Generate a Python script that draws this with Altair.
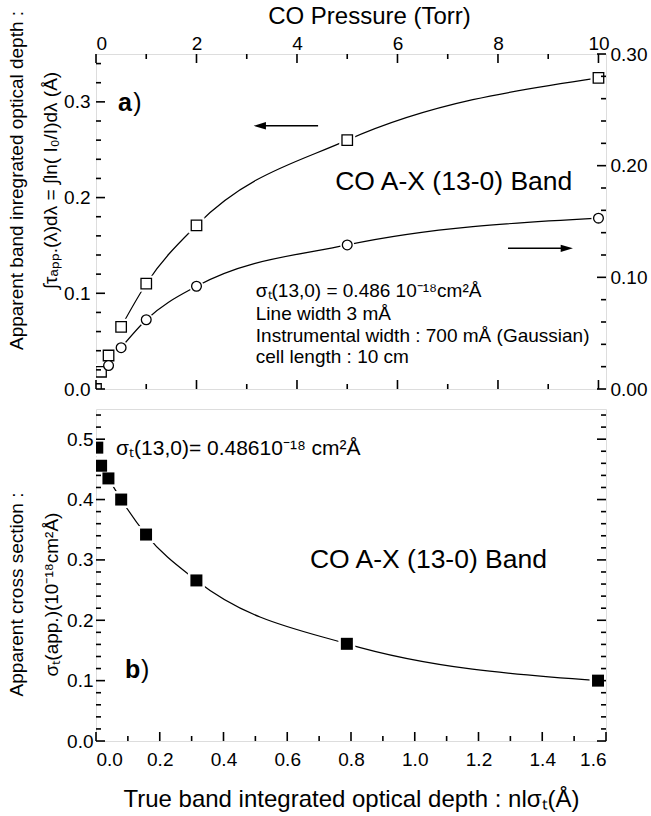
import altair as alt
import pandas as pd

FONT = "Liberation Sans"

# ---------------- data: panel a (top) ----------------
pressure_sq = [0.0, 0.1, 0.25, 0.5, 1, 2, 5, 10]
depth_sq = [0.0, 0.018, 0.035, 0.065, 0.110, 0.171, 0.260, 0.325]      # left axis
pressure_ci = [0.25, 0.5, 1, 2, 5, 10]
depth_ci = [0.021, 0.037, 0.062, 0.092, 0.129, 0.153]                  # right axis
fit_start_sq = 3   # fitted curve starts at the 0.5 Torr square
fit_start_ci = 1   # and at the 0.5 Torr circle

# ---------------- data: panel b (bottom) ----------------
nl_sigma = [0.004, 0.016, 0.039, 0.079, 0.157, 0.315, 0.787, 1.575]
sigma_app = [0.486, 0.456, 0.435, 0.400, 0.342, 0.266, 0.161, 0.100]
fit_start_b = 2

# ---------------- ticks ----------------
top_x_major = [0, 2, 4, 6, 8, 10]
top_x_minor = [1, 3, 5, 7, 9]
top_yl_major = [0.0, 0.1, 0.2, 0.3]
top_yl_minor = [0.02, 0.04, 0.06, 0.08, 0.12, 0.14, 0.16, 0.18, 0.22, 0.24, 0.26, 0.28, 0.32, 0.34]
top_yr_major = [0.0, 0.1, 0.2, 0.3]
top_yr_minor = [0.02, 0.04, 0.06, 0.08, 0.12, 0.14, 0.16, 0.18, 0.22, 0.24, 0.26, 0.28]
bot_x_major = [0.0, 0.2, 0.4, 0.6, 0.8, 1.0, 1.2, 1.4, 1.6]
bot_x_minor = [0.1, 0.3, 0.5, 0.7, 0.9, 1.1, 1.3, 1.5]
bot_y_major = [0.0, 0.1, 0.2, 0.3, 0.4, 0.5]
bot_y_minor = [0.02, 0.04, 0.06, 0.08, 0.12, 0.14, 0.16, 0.18, 0.22, 0.24, 0.26, 0.28,
               0.32, 0.34, 0.36, 0.38, 0.42, 0.44, 0.46, 0.48, 0.52, 0.54]

# ---------------- annotations ----------------
info_text = ["σₜ(13,0)  = 0.486 10⁻¹⁸cm²Å", "Line width 3 mÅ",
             "Instrumental width : 700 mÅ (Gaussian)", "cell length : 10 cm"]
info_x = [3.18, 3.18, 3.18, 3.18]
info_y = [0.102, 0.078, 0.055, 0.033]
band_text = "CO A-X (13-0) Band"
band_top_xy = (4.76, 0.216)
band_bot_xy = (0.671, 0.300)
panel_a_xy = [(0.44, 0.299), (0.74, 0.299)]
panel_b_xy = [(0.091, 0.118), (0.141, 0.118)]
sigma_b_text = "σₜ(13,0)= 0.48610⁻¹⁸ cm²Å"
sigma_b_xy = (0.063, 0.483)
arrow_x1 = [4.42, 8.20]
arrow_x2 = [3.26, 9.37]
arrow_y = [0.275, 0.147]

TOP_W, TOP_H = 510, 335
BOT_W, BOT_H = 510, 332

TOP_XD = [0, 10.15]
TOP_YLD = [0, 0.35]
TOP_YRD = [0, 0.30]
BOT_XD = [0, 1.6]
BOT_YD = [0, 0.55]

xs_top = alt.Scale(domain=TOP_XD, nice=False, zero=False)
yl_top = alt.Scale(domain=TOP_YLD, nice=False, zero=False)
yr_top = alt.Scale(domain=TOP_YRD, nice=False, zero=False)
xs_bot = alt.Scale(domain=BOT_XD, nice=False, zero=False)
ys_bot = alt.Scale(domain=BOT_YD, nice=False, zero=False)


def label_axis(orient, values, fmt, pad, **kw):
    opts = dict(orient=orient, values=values, format=fmt, ticks=False, domain=False,
                grid=False, labelPadding=pad, labelFontSize=19, labelFont=FONT,
                labelColor="black")
    opts.update(kw)
    if "title" not in opts:
        opts["title"] = None
    return alt.Axis(**opts)


def xticks(values, edge, length, xscale, yscale):
    """Inward ticks along a horizontal edge (edge = data value of that edge)."""
    df = pd.DataFrame({"t": values, "e": [edge] * len(values)})
    off = length if edge == yscale.domain[1] else -length
    return alt.Chart(df).mark_rule(color="black", strokeWidth=1.6, y2Offset=off).encode(
        x=alt.X("t:Q", scale=xscale, axis=None),
        y=alt.Y("e:Q", scale=yscale, axis=None), y2="e:Q")


def yticks(values, edge, length, xscale, yscale):
    """Inward ticks along a vertical edge."""
    df = pd.DataFrame({"t": values, "e": [edge] * len(values)})
    off = -length if edge == xscale.domain[1] else length
    return alt.Chart(df).mark_rule(color="black", strokeWidth=1.6, x2Offset=off).encode(
        y=alt.Y("t:Q", scale=yscale, axis=None),
        x=alt.X("e:Q", scale=xscale, axis=None), x2="e:Q")


# ======================= panel a =======================
df_sq = pd.DataFrame({"p": pressure_sq, "v": depth_sq})
df_ci = pd.DataFrame({"p": pressure_ci, "v": depth_ci})
df_sq_fit = df_sq.iloc[fit_start_sq:]
df_ci_fit = df_ci.iloc[fit_start_ci:]

ax_x_top = label_axis("top", top_x_major, "d", 1,
                      title="CO Pressure (Torr)", titleFontSize=24, titleFont=FONT,
                      titleFontWeight="normal", titleColor="black", titleX=273, titleY=-38,
                      titleBaseline="middle", titleAlign="center")
ax_yl_top = label_axis("left", top_yl_major, ".1f", 6,
                       title=["Apparent band inregrated optical depth :",
                              "∫τₐₚₚ.(λ)dλ = ∫ln( I₀/I)dλ (Å)"],
                       titleFontSize=19, titleFont=FONT, titleFontWeight="normal",
                       titleColor="black", titleLineHeight=34, titleX=-80, titleY=126,
                       titleBaseline="middle", titleAlign="center", titleAngle=270)
ax_yr_top = label_axis("right", top_yr_major, ".2f", 4)

line_sq = alt.Chart(df_sq_fit).mark_line(color="black", strokeWidth=1.2, interpolate="monotone").encode(
    x=alt.X("p:Q", scale=xs_top, axis=ax_x_top),
    y=alt.Y("v:Q", scale=yl_top, axis=ax_yl_top),
)
line_ci = alt.Chart(df_ci_fit).mark_line(color="black", strokeWidth=1.2, interpolate="monotone").encode(
    x=alt.X("p:Q", scale=xs_top, axis=None),
    y=alt.Y("v:Q", scale=yr_top, axis=ax_yr_top),
)
halo_sq = alt.Chart(df_sq).mark_point(shape="square", filled=True, color="white", size=256, opacity=1, clip=True).encode(
    x=alt.X("p:Q", scale=xs_top, axis=None), y=alt.Y("v:Q", scale=yl_top, axis=None))
halo_ci = alt.Chart(df_ci).mark_point(shape="circle", filled=True, color="white", size=200, opacity=1, clip=True).encode(
    x=alt.X("p:Q", scale=xs_top, axis=None), y=alt.Y("v:Q", scale=yr_top, axis=None))
pts_sq = alt.Chart(df_sq).mark_point(shape="square", fill="white", stroke="black", strokeWidth=1.3,
                                     size=110, opacity=1, fillOpacity=1, clip=True).encode(
    x=alt.X("p:Q", scale=xs_top, axis=None), y=alt.Y("v:Q", scale=yl_top, axis=None))
pts_ci = alt.Chart(df_ci).mark_point(shape="circle", fill="white", stroke="black", strokeWidth=1.3,
                                     size=95, opacity=1, fillOpacity=1, clip=True).encode(
    x=alt.X("p:Q", scale=xs_top, axis=None), y=alt.Y("v:Q", scale=yr_top, axis=None))

df_info = pd.DataFrame({"x": info_x, "y": info_y, "t": info_text})
info = alt.Chart(df_info).mark_text(font=FONT, fontSize=19, align="left", baseline="middle", color="black").encode(
    x=alt.X("x:Q", scale=xs_top, axis=None), y=alt.Y("y:Q", scale=yl_top, axis=None), text="t:N")

df_band_top = pd.DataFrame({"x": [band_top_xy[0]], "y": [band_top_xy[1]], "t": [band_text]})
band_top = alt.Chart(df_band_top).mark_text(font=FONT, fontSize=26.5, align="left", baseline="middle", color="black").encode(
    x=alt.X("x:Q", scale=xs_top, axis=None), y=alt.Y("y:Q", scale=yl_top, axis=None), text="t:N")

df_a = pd.DataFrame({"x": [panel_a_xy[0][0]], "y": [panel_a_xy[0][1]], "t": ["a"]})
lab_a = alt.Chart(df_a).mark_text(font=FONT, fontSize=25, fontWeight="bold", align="left", baseline="middle", color="black").encode(
    x=alt.X("x:Q", scale=xs_top, axis=None), y=alt.Y("y:Q", scale=yl_top, axis=None), text="t:N")
df_ap = pd.DataFrame({"x": [panel_a_xy[1][0]], "y": [panel_a_xy[1][1]], "t": [")"]})
lab_ap = alt.Chart(df_ap).mark_text(font=FONT, fontSize=25, align="left", baseline="middle", color="black").encode(
    x=alt.X("x:Q", scale=xs_top, axis=None), y=alt.Y("y:Q", scale=yl_top, axis=None), text="t:N")

df_arrow = pd.DataFrame({"x1": arrow_x1, "x2": arrow_x2, "y": arrow_y})
arrow_lines = alt.Chart(df_arrow).mark_rule(color="black", strokeWidth=1.5).encode(
    x=alt.X("x1:Q", scale=xs_top, axis=None), x2="x2:Q", y=alt.Y("y:Q", scale=yl_top, axis=None))
head_left = alt.Chart(df_arrow.iloc[[0]]).mark_point(shape="M-1,0L1,-0.6L1,0.6Z", filled=True, color="black", size=150, opacity=1).encode(
    x=alt.X("x2:Q", scale=xs_top, axis=None), y=alt.Y("y:Q", scale=yl_top, axis=None))
head_right = alt.Chart(df_arrow.iloc[[1]]).mark_point(shape="M1,0L-1,-0.6L-1,0.6Z", filled=True, color="black", size=150, opacity=1).encode(
    x=alt.X("x2:Q", scale=xs_top, axis=None), y=alt.Y("y:Q", scale=yl_top, axis=None))

top_ticks = [
    xticks(top_x_major, TOP_YLD[1], 9, xs_top, yl_top),
    xticks(top_x_minor, TOP_YLD[1], 5, xs_top, yl_top),
    xticks(top_x_major, TOP_YLD[0], 9, xs_top, yl_top),
    xticks(top_x_minor, TOP_YLD[0], 5, xs_top, yl_top),
    yticks(top_yl_major, TOP_XD[0], 9, xs_top, yl_top),
    yticks(top_yl_minor, TOP_XD[0], 5, xs_top, yl_top),
    yticks(top_yr_major, TOP_XD[1], 9, xs_top, yr_top),
    yticks(top_yr_minor, TOP_XD[1], 5, xs_top, yr_top),
]

top = alt.layer(
    line_sq, line_ci, halo_sq, halo_ci, pts_sq, pts_ci,
    info, band_top, lab_a, lab_ap, arrow_lines, head_left, head_right, *top_ticks,
).resolve_scale(y="independent").resolve_axis(x="independent", y="independent").properties(
    width=TOP_W, height=TOP_H)

# ======================= panel b =======================
df_b = pd.DataFrame({"x": nl_sigma, "y": sigma_app})
df_b_fit = df_b.iloc[fit_start_b:]

ax_x_bot = label_axis("bottom", bot_x_major, ".1f", 9,
                      title="True band integrated optical depth : nlσₜ(Å)", titleFontSize=24,
                      titleFont=FONT, titleFontWeight="normal", titleColor="black",
                      titleY=58, titleBaseline="middle", titleAlign="center")
ax_y_bot = label_axis("left", bot_y_major, ".1f", 3,
                      title=["Apparent cross section :", "σₜ(app.)(10⁻¹⁸cm²Å)"],
                      titleFontSize=19, titleFont=FONT, titleFontWeight="normal",
                      titleColor="black", titleLineHeight=35, titleX=-80, titleY=185,
                      titleBaseline="middle", titleAlign="center", titleAngle=270)

line_b = alt.Chart(df_b_fit).mark_line(color="black", strokeWidth=1.2, interpolate="monotone").encode(
    x=alt.X("x:Q", scale=xs_bot, axis=ax_x_bot),
    y=alt.Y("y:Q", scale=ys_bot, axis=ax_y_bot),
)
halo_b = alt.Chart(df_b).mark_point(shape="square", filled=True, color="white", size=289, opacity=1, clip=True).encode(
    x=alt.X("x:Q", scale=xs_bot, axis=None), y=alt.Y("y:Q", scale=ys_bot, axis=None))
pts_b = alt.Chart(df_b).mark_point(shape="square", filled=True, color="black", size=144, opacity=1, clip=True).encode(
    x=alt.X("x:Q", scale=xs_bot, axis=None), y=alt.Y("y:Q", scale=ys_bot, axis=None))
df_band_bot = pd.DataFrame({"x": [band_bot_xy[0]], "y": [band_bot_xy[1]], "t": [band_text]})
band_bot = alt.Chart(df_band_bot).mark_text(font=FONT, fontSize=26.5, align="left", baseline="middle", color="black").encode(
    x=alt.X("x:Q", scale=xs_bot, axis=None), y=alt.Y("y:Q", scale=ys_bot, axis=None), text="t:N")
df_sig = pd.DataFrame({"x": [sigma_b_xy[0]], "y": [sigma_b_xy[1]], "t": [sigma_b_text]})
sig_b = alt.Chart(df_sig).mark_text(font=FONT, fontSize=21, align="left", baseline="middle", color="black").encode(
    x=alt.X("x:Q", scale=xs_bot, axis=None), y=alt.Y("y:Q", scale=ys_bot, axis=None), text="t:N")
df_b1 = pd.DataFrame({"x": [panel_b_xy[0][0]], "y": [panel_b_xy[0][1]], "t": ["b"]})
lab_b = alt.Chart(df_b1).mark_text(font=FONT, fontSize=25, fontWeight="bold", align="left", baseline="middle", color="black").encode(
    x=alt.X("x:Q", scale=xs_bot, axis=None), y=alt.Y("y:Q", scale=ys_bot, axis=None), text="t:N")
df_b2 = pd.DataFrame({"x": [panel_b_xy[1][0]], "y": [panel_b_xy[1][1]], "t": [")"]})
lab_bp = alt.Chart(df_b2).mark_text(font=FONT, fontSize=25, align="left", baseline="middle", color="black").encode(
    x=alt.X("x:Q", scale=xs_bot, axis=None), y=alt.Y("y:Q", scale=ys_bot, axis=None), text="t:N")

bot_ticks = [
    xticks(bot_x_major, BOT_YD[0], 9, xs_bot, ys_bot),
    xticks(bot_x_minor, BOT_YD[0], 5, xs_bot, ys_bot),
    yticks(bot_y_major, BOT_XD[0], 9, xs_bot, ys_bot),
    yticks(bot_y_minor, BOT_XD[0], 5, xs_bot, ys_bot),
    yticks(bot_y_major, BOT_XD[1], 9, xs_bot, ys_bot),
    yticks(bot_y_minor, BOT_XD[1], 5, xs_bot, ys_bot),
]

bottom = alt.layer(
    line_b, halo_b, pts_b, band_bot, sig_b, lab_b, lab_bp, *bot_ticks,
).resolve_axis(x="independent", y="independent").properties(width=BOT_W, height=BOT_H)

chart = alt.vconcat(top, bottom, spacing=8).properties(
    padding={"left": 6, "top": 3, "right": 0, "bottom": 4},
    background="white",
).configure_view(stroke="black", strokeWidth=2).configure(font=FONT)

chart.save("out.html", embed_options={"renderer": "svg", "actions": False})
